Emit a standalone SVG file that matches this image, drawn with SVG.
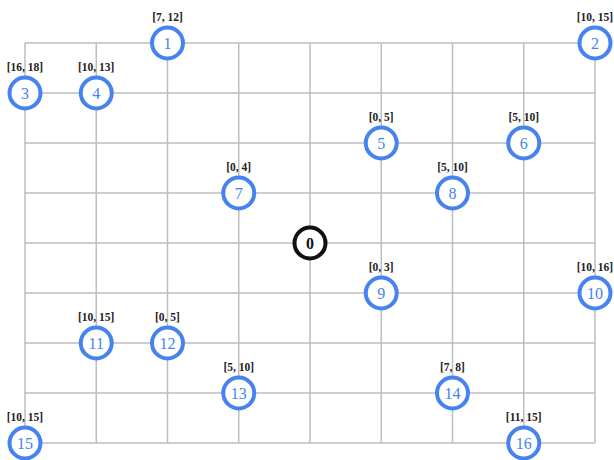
<svg xmlns="http://www.w3.org/2000/svg" width="614" height="460" viewBox="0 0 614 460">
<style>
.g{stroke:#bdbdbd;stroke-width:1.5;fill:none}
.n circle{fill:#fff;stroke:#4683f0;stroke-width:4}
.n text{font-family:"Liberation Serif",serif;font-size:16px;fill:#4683f0;text-anchor:middle}
.n text.l{font-size:11.5px;font-weight:bold;fill:#222}
#n0 circle{stroke:#111}
#n0 text{fill:#111;font-weight:bold}
</style>
<rect width="614" height="460" fill="#fff"/>
<g id="connectors" class="g">
<path d="M25 43H595M25 93H595M25 143H595M25 193H595M25 243H595M25 293H595M25 343H595M25 393H595M25 443H595"/>
<path d="M25 43V443M96.25 43V443M167.5 43V443M238.75 43V443M310 43V443M381.25 43V443M452.5 43V443M523.75 43V443M595 43V443"/>
</g>
<g id="n0" class="n"><circle cx="310" cy="243" r="15.5"/><text x="310" y="248.5">0</text></g>
<g id="n1" class="n"><circle cx="167.5" cy="43" r="15.5"/><text x="167.5" y="48.5">1</text><text class="l" x="167.5" y="21">[7, 12]</text></g>
<g id="n2" class="n"><circle cx="595" cy="43" r="15.5"/><text x="595" y="48.5">2</text><text class="l" x="595" y="21">[10, 15]</text></g>
<g id="n3" class="n"><circle cx="25" cy="93" r="15.5"/><text x="25" y="98.5">3</text><text class="l" x="25" y="71">[16, 18]</text></g>
<g id="n4" class="n"><circle cx="96.25" cy="93" r="15.5"/><text x="96.25" y="98.5">4</text><text class="l" x="96.25" y="71">[10, 13]</text></g>
<g id="n5" class="n"><circle cx="381.25" cy="143" r="15.5"/><text x="381.25" y="148.5">5</text><text class="l" x="381.25" y="121">[0, 5]</text></g>
<g id="n6" class="n"><circle cx="523.75" cy="143" r="15.5"/><text x="523.75" y="148.5">6</text><text class="l" x="523.75" y="121">[5, 10]</text></g>
<g id="n7" class="n"><circle cx="238.75" cy="193" r="15.5"/><text x="238.75" y="198.5">7</text><text class="l" x="238.75" y="171">[0, 4]</text></g>
<g id="n8" class="n"><circle cx="452.5" cy="193" r="15.5"/><text x="452.5" y="198.5">8</text><text class="l" x="452.5" y="171">[5, 10]</text></g>
<g id="n9" class="n"><circle cx="381.25" cy="293" r="15.5"/><text x="381.25" y="298.5">9</text><text class="l" x="381.25" y="271">[0, 3]</text></g>
<g id="n10" class="n"><circle cx="595" cy="293" r="15.5"/><text x="595" y="298.5">10</text><text class="l" x="595" y="271">[10, 16]</text></g>
<g id="n11" class="n"><circle cx="96.25" cy="343" r="15.5"/><text x="96.25" y="348.5">11</text><text class="l" x="96.25" y="321">[10, 15]</text></g>
<g id="n12" class="n"><circle cx="167.5" cy="343" r="15.5"/><text x="167.5" y="348.5">12</text><text class="l" x="167.5" y="321">[0, 5]</text></g>
<g id="n13" class="n"><circle cx="238.75" cy="393" r="15.5"/><text x="238.75" y="398.5">13</text><text class="l" x="238.75" y="371">[5, 10]</text></g>
<g id="n14" class="n"><circle cx="452.5" cy="393" r="15.5"/><text x="452.5" y="398.5">14</text><text class="l" x="452.5" y="371">[7, 8]</text></g>
<g id="n15" class="n"><circle cx="25" cy="443" r="15.5"/><text x="25" y="448.5">15</text><text class="l" x="25" y="421">[10, 15]</text></g>
<g id="n16" class="n"><circle cx="523.75" cy="443" r="15.5"/><text x="523.75" y="448.5">16</text><text class="l" x="523.75" y="421">[11, 15]</text></g>
</svg>
